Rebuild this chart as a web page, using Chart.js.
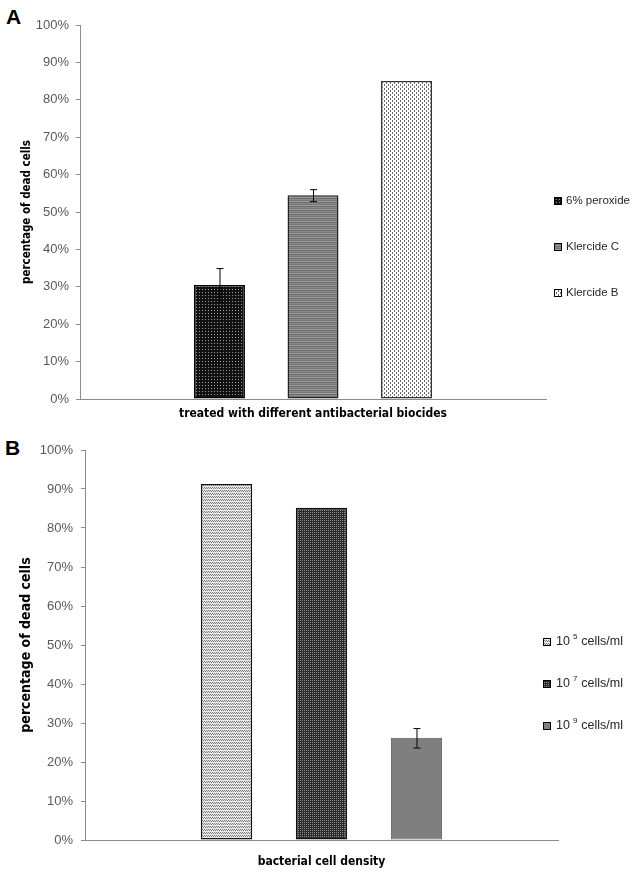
<!DOCTYPE html>
<html>
<head>
<meta charset="utf-8">
<script src="https://cdn.jsdelivr.net/npm/chart.js@4.4.0/dist/chart.umd.min.js"></script>
<style>
  body { margin: 0; background: #fff; width: 633px; height: 873px; position: relative; overflow: hidden; }
  .tag { position: absolute; font: bold 21px "Liberation Sans", Arial, sans-serif; color: #000; line-height: 1; }
  canvas { position: absolute; left: 0; }
</style>
</head>
<body>
<div class="tag" style="left:6px;top:6px">A</div>
<div class="tag" style="left:5px;top:437px">B</div>
<canvas id="chartA" width="633" height="430" style="top:0"></canvas>
<canvas id="chartB" width="633" height="443" style="top:430px"></canvas>
<script>
// panel A : biocides
const biocides = ["6% peroxide", "Klercide C", "Klercide B"];
const deadA = [30.5, 54.5, 85];
const errA = [4.5, 1.6, 0];

// panel B : cell density
const exponents = [5, 7, 9];
const deadB = [91.3, 85.2, 26.2];
const errB = [0, 0, 2.5];

const yTicks = [0, 10, 20, 30, 40, 50, 60, 70, 80, 90, 100];

const narrow = "'Liberation Sans Narrow', 'DejaVu Sans Condensed', sans-serif";
const sans = "'Liberation Sans', Arial, sans-serif";

// little tile patterns, like the excel fills
function makePattern(w, h, bg, pixels, color) {
  const c = document.createElement("canvas");
  c.width = w;
  c.height = h;
  const g = c.getContext("2d");
  g.fillStyle = bg;
  g.fillRect(0, 0, w, h);
  g.fillStyle = color;
  pixels.forEach(([x, y]) => g.fillRect(x, y, 1, 1));
  return g.createPattern(c, "repeat");
}

function stripes(colors) {
  const c = document.createElement("canvas");
  c.width = 1;
  c.height = colors.length;
  const g = c.getContext("2d");
  colors.forEach((col, i) => {
    g.fillStyle = col;
    g.fillRect(0, i, 1, 1);
  });
  return g.createPattern(c, "repeat");
}

const fillsA = [
  makePattern(3, 3, "#111", [[1, 1]], "#9a9a9a"),
  stripes(["#767676", "#9c9c9c", "#6c6c6c", "#8a8a8a"]),
  makePattern(4, 4, "#fff", [[0, 0], [0, 1], [2, 2], [2, 3]], "#6a6a6a"),
];
const bordersA = ["#000", "#222", "#333"];

const fillsB = [
  makePattern(4, 3, "#e8e8e8", [[0, 0], [2, 0], [1, 1], [3, 1]], "#7a7a7a"),
  makePattern(2, 2, "#2a2a2a", [[0, 0]], "#8e8e8e"),
  "#7f7f7f",
];
const bordersB = ["#111", "#111", "#595959"];

// error bars drawn on top of the bars
const errorBars = {
  id: "errorBars",
  afterDatasetsDraw(chart, args, opts) {
    const ctx = chart.ctx;
    const y = chart.scales.y;
    chart.data.datasets.forEach((ds, i) => {
      const e = opts.errors[i];
      if (!e) return;
      const bar = chart.getDatasetMeta(i).data[0];
      const v = ds.data[0];
      const top = y.getPixelForValue(v + e);
      const bot = y.getPixelForValue(v - e);
      ctx.save();
      ctx.strokeStyle = "#000";
      ctx.lineWidth = 1;
      ctx.beginPath();
      ctx.moveTo(bar.x + 0.5, top);
      ctx.lineTo(bar.x + 0.5, bot);
      ctx.moveTo(bar.x - 3, top + 0.5);
      ctx.lineTo(bar.x + 4, top + 0.5);
      ctx.moveTo(bar.x - 3, bot + 0.5);
      ctx.lineTo(bar.x + 4, bot + 0.5);
      ctx.stroke();
      ctx.restore();
    });
  },
};

// legend on the right side, one row per dataset
const sideLegend = {
  id: "sideLegend",
  afterDraw(chart, args, opts) {
    const ctx = chart.ctx;
    ctx.save();
    chart.data.datasets.forEach((ds, i) => {
      const cy = opts.rows[i];
      const s = opts.box;
      ctx.fillStyle = ds.backgroundColor;
      ctx.fillRect(opts.x, cy - s / 2, s, s);
      ctx.strokeStyle = "#000";
      ctx.lineWidth = 1;
      ctx.strokeRect(opts.x + 0.5, cy - s / 2 + 0.5, s - 1, s - 1);
      ctx.fillStyle = "#262626";
      ctx.textBaseline = "middle";
      ctx.font = opts.size + "px " + sans;
      let tx = opts.textX;
      if (opts.sup) {
        ctx.fillText("10", tx, cy);
        tx += ctx.measureText("10").width + 3;
        ctx.font = Math.round(opts.size * 0.65) + "px " + sans;
        ctx.fillText(String(opts.sup[i]), tx, cy - 5);
        tx += ctx.measureText(String(opts.sup[i])).width + 4;
        ctx.font = opts.size + "px " + sans;
        ctx.fillText("cells/ml", tx, cy);
      } else {
        ctx.fillText(ds.label, tx, cy);
      }
    });
    ctx.restore();
  },
};

function drawChart(id, labels, values, errors, fills, borders, cfg) {
  const datasets = labels.map((label, i) => ({
    label: label,
    data: [values[i]],
    backgroundColor: fills[i],
    borderColor: borders[i],
    borderWidth: i === 2 && id === "chartB" ? 1 : 1.5,
    borderSkipped: false,
    categoryPercentage: cfg.catPct,
    barPercentage: cfg.barPct,
  }));

  new Chart(document.getElementById(id), {
    type: "bar",
    data: { labels: [""], datasets: datasets },
    options: {
      responsive: false,
      animation: false,
      layout: { padding: cfg.padding },
      plugins: {
        legend: { display: false },
        tooltip: { enabled: false },
        errorBars: { errors: errors },
        sideLegend: cfg.legend,
      },
      scales: {
        x: {
          grid: { display: false },
          border: { display: true, color: "#8c8c8c", width: 1 },
          ticks: { display: false },
          title: {
            display: true,
            text: cfg.xTitle,
            color: "#000",
            font: { family: narrow, size: cfg.xSize, weight: "bold" },
            padding: { top: 0, bottom: cfg.xPad },
          },
          afterFit: (s) => { s.height = cfg.xHeight; },
        },
        y: {
          min: 0,
          max: 100,
          afterBuildTicks: (s) => { s.ticks = yTicks.map((v) => ({ value: v })); },
          grid: { drawOnChartArea: false, drawTicks: true, tickLength: 4, color: "#8c8c8c" },
          border: { display: true, color: "#8c8c8c", width: 1 },
          ticks: {
            color: "#595959",
            padding: cfg.tickPad,
            font: { family: sans, size: 13 },
            callback: (v) => v + "%",
          },
          title: {
            display: true,
            text: "percentage of dead cells",
            color: "#000",
            font: { family: narrow, size: cfg.ySize, weight: "bold" },
            padding: { top: cfg.yPad, bottom: 0 },
          },
          afterFit: (s) => { s.width = cfg.yWidth; },
        },
      },
    },
    plugins: [errorBars, sideLegend],
  });
}

drawChart("chartA", biocides, deadA, errA, fillsA, bordersA, {
  catPct: 0.602,
  barPct: 0.545,
  padding: { left: 0, right: 87, top: 25, bottom: 0 },
  xTitle: "treated with different antibacterial biocides",
  xSize: 12,
  xPad: 8.5,
  xHeight: 31,
  ySize: 11.5,
  yPad: 20,
  yWidth: 80,
  tickPad: 7,
  legend: { x: 554, box: 8, textX: 566, size: 11.5, rows: [201, 247, 293] },
});

drawChart("chartB", exponents.map((e) => "10^" + e + " cells/ml"), deadB, errB, fillsB, bordersB, {
  catPct: 0.6025,
  barPct: 0.54,
  padding: { left: 0, right: 75, top: 20, bottom: 0 },
  xTitle: "bacterial cell density",
  xSize: 12,
  xPad: 4,
  xHeight: 33,
  ySize: 14,
  yPad: 17.6,
  yWidth: 85,
  tickPad: 8,
  legend: { x: 543, box: 8, textX: 556, size: 12.5, rows: [212, 254, 296], sup: exponents },
});
</script>
</body>
</html>
